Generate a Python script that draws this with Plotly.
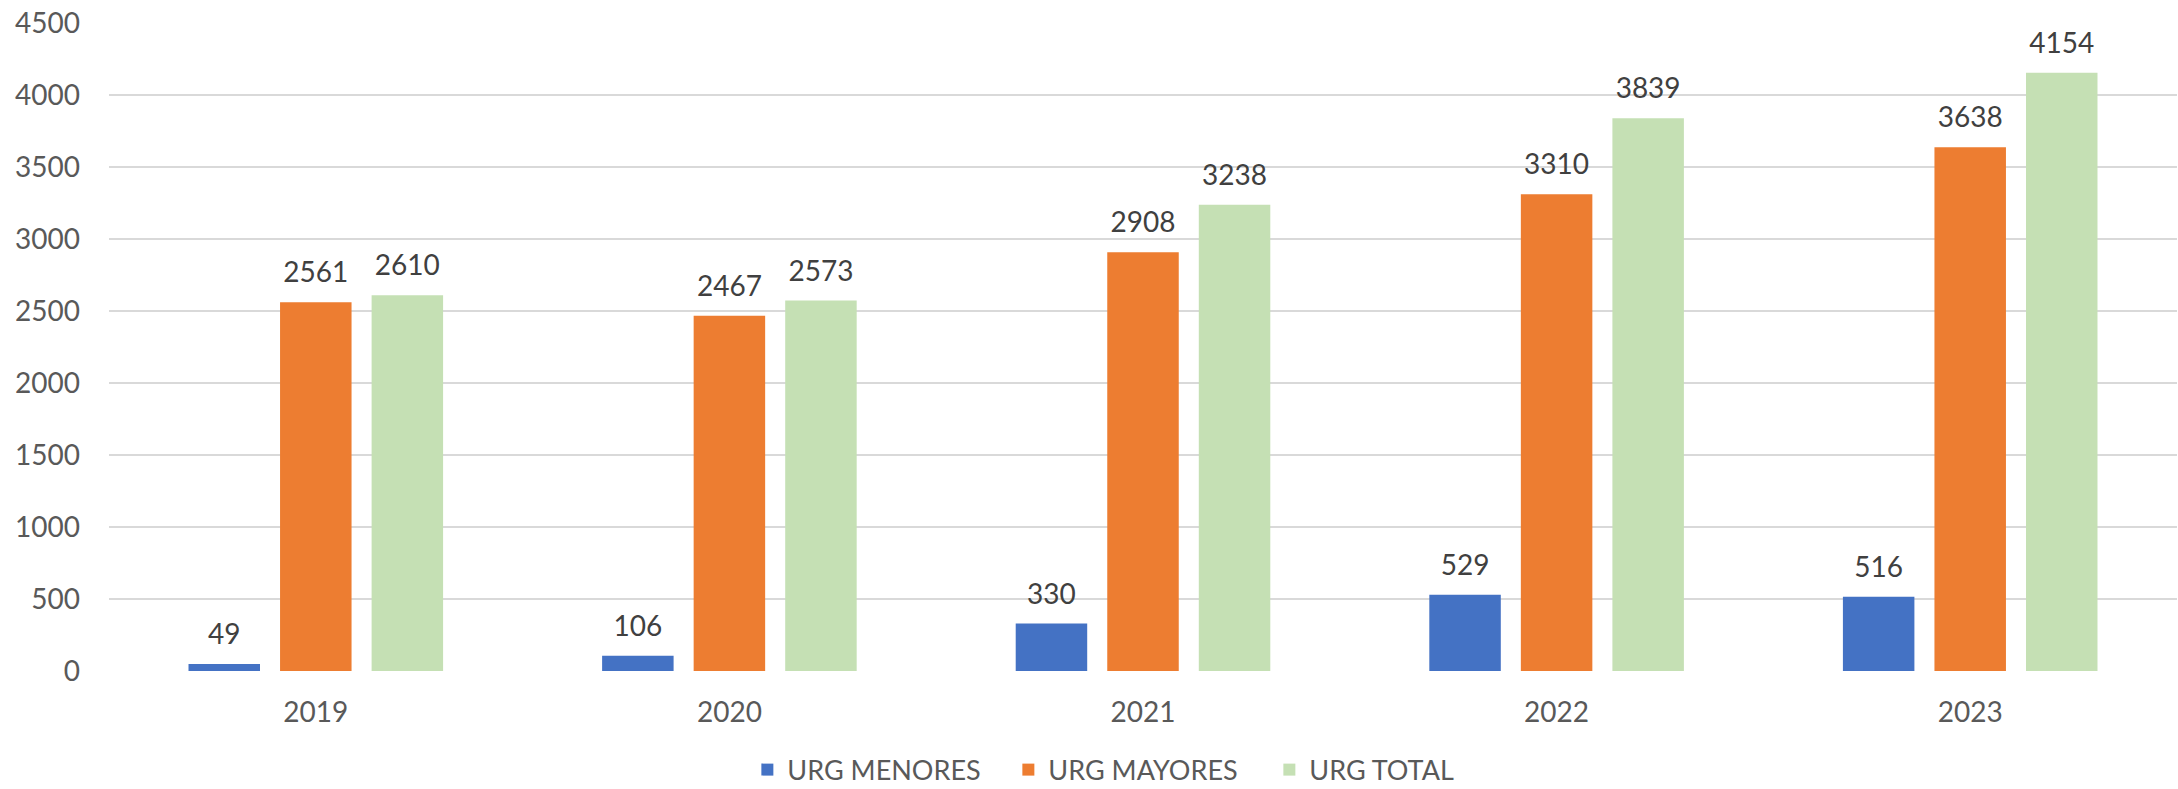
import plotly.graph_objects as go

# Datos
anios = ["2019", "2020", "2021", "2022", "2023"]
urg_menores = [49, 106, 330, 529, 516]
urg_mayores = [2561, 2467, 2908, 3310, 3638]
urg_total = [2610, 2573, 3238, 3839, 4154]

series = [
    ("URG MENORES", urg_menores, "#4472C4"),
    ("URG MAYORES", urg_mayores, "#ED7D31"),
    ("URG TOTAL", urg_total, "#C5E0B4"),
]

FUENTE = "Lato"
GAP = 0.336

fig = go.Figure()

for nombre, valores, color in series:
    fig.add_trace(go.Bar(
        x=anios, y=valores, name=nombre,
        marker=dict(color=color, line=dict(width=0)),
        hoverinfo="x+y+name",
    ))

# Etiquetas de datos: puntos invisibles agrupados igual que las barras
for nombre, valores, color in series:
    fig.add_trace(go.Scatter(
        x=anios, y=valores, mode="markers+text",
        text=[str(v) for v in valores],
        textposition="top center",
        textfont=dict(family=FUENTE, size=28, color="#404040"),
        marker=dict(size=19, color="rgba(0,0,0,0)"),
        showlegend=False, hoverinfo="skip", cliponaxis=False,
    ))

fig.update_layout(
    width=2178, height=789,
    margin=dict(l=109, r=1, t=23, b=118),
    paper_bgcolor="white",
    plot_bgcolor="white",
    barmode="group",
    bargap=GAP,
    bargroupgap=0.219,
    scattermode="group",
    scattergap=GAP,
    font=dict(family=FUENTE, size=28, color="#595959"),
    xaxis=dict(
        showgrid=False, showline=False, zeroline=False,
        tickfont=dict(family=FUENTE, size=28, color="#595959"),
        ticklabelstandoff=22,
    ),
    yaxis=dict(
        range=[0, 4500], dtick=500,
        showgrid=True, gridcolor="#D9D9D9", gridwidth=1.5,
        zeroline=False, showline=False,
        tickfont=dict(family=FUENTE, size=28, color="#595959"),
        ticklabelstandoff=28,
    ),
    legend=dict(
        orientation="h",
        xref="paper", x=0.498, xanchor="center",
        yref="container", y=0.024, yanchor="middle",
        entrywidth=216, entrywidthmode="pixels",
        font=dict(family=FUENTE, size=27, color="#595959"),
        bgcolor="rgba(0,0,0,0)",
    ),
    showlegend=True,
)

fig.write_html(
    "out.html",
    config={"displayModeBar": False},
    post_script="document.body.style.margin='0';",
)
